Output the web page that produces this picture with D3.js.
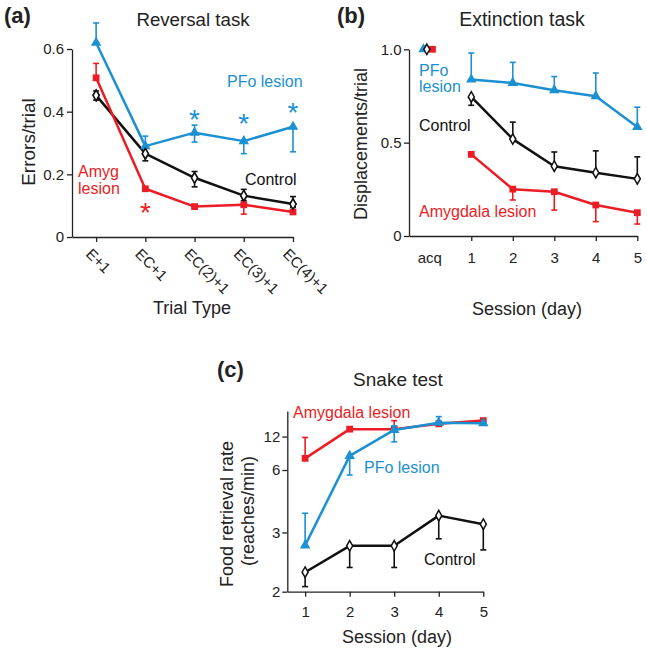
<!DOCTYPE html>
<html><head><meta charset="utf-8">
<script src="https://cdn.jsdelivr.net/npm/d3@7"></script>
<style>body{margin:0;background:#fff} text{font-family:"Liberation Sans",Arial,sans-serif}</style>
</head><body><svg id="c" width="647" height="652"></svg>
<script>
// ---------- DATA ----------
// Panel (a) Reversal task
const trialTypes = ["E+1", "EC+1", "EC(2)+1", "EC(3)+1", "EC(4)+1"];
const aPFo   = [0.62, 0.29, 0.333, 0.306, 0.352];
const aPFoHi = [0.683, 0.322, 0.357, null, null];
const aPFoLo = [null, null, 0.303, 0.266, 0.272];
const aAmyg   = [0.508, 0.154, 0.097, 0.103, 0.08];
const aAmygHi = [0.554, null, null, 0.131, null];
const aAmygLo = [null, null, null, 0.073, null];
const aCtrl   = [0.452, 0.266, 0.189, 0.132, 0.105];
const aCtrlHi = [0.466, 0.286, 0.209, 0.152, 0.129];
const aCtrlLo = [0.437, 0.243, 0.16, 0.116, 0.095];
const aAmygStarIdx = [1], aAmygStarVal = [0.1];
const aPFoStarIdx = [2, 3, 4], aPFoStarVal = [0.397, 0.384, 0.418];
const aYTicks = [0, 0.2, 0.4, 0.6], aYTickLabels = ["0", "0.2", "0.4", "0.6"];

// Panel (b) Extinction task
const bSessions = [1, 2, 3, 4, 5];
const bAcqLabel = "acq";
const bAcqVal = [1.0, 1.0, 1.0];            // PFo, Control, Amygdala at acquisition
const bAcqOffset = [-0.15, -0.07, 0.065];   // small horizontal jitter (session units)
const bPFo   = [0.838, 0.82, 0.781, 0.749, 0.584];
const bPFoHi = [0.98, 0.93, 0.854, 0.873, 0.69];
const bCtrl   = [0.745, 0.519, 0.374, 0.339, 0.306];
const bCtrlHi = [null, 0.61, 0.45, 0.456, 0.424];
const bCtrlLo = [0.70, null, null, null, null];
const bAmyg   = [0.437, 0.251, 0.237, 0.166, 0.125];
const bAmygLo = [null, 0.193, 0.139, 0.077, 0.064];
const bYTicks = [0, 0.5, 1.0], bYTickLabels = ["0", "0.5", "1.0"];

// Panel (c) Snake test
const cSessions = [1, 2, 3, 4, 5];
const cAmyg   = [7.3, 15.2, 15.2, 18.7, 21.7];
const cAmygHi = [11.7, null, 21.6, null, null];
const cPFo   = [2.71, 7.64, 14.8, 19.7, 19.2];
const cPFoHi = [3.56, null, 17.2, 26.9, null];
const cPFoLo = [null, 5.57, 10.4, null, null];
const cCtrl   = [2.25, 2.70, 2.70, 3.48, 3.22];
const cCtrlLo = [2.06, 2.32, 2.32, 2.85, 2.62];
const cYTicks = [2, 3, 6, 12];

// ---------- STYLE ----------
const RED = "#ec1c24", BLUE = "#1b90d3", BLACK = "#111";
const svg = d3.select("#c");
svg.append("rect").attr("width", 647).attr("height", 652).attr("fill", "#fff");

function styleAxis(g, fs) {
  g.attr("font-family", null).attr("font-size", null);
  g.selectAll(".domain").attr("stroke", "#222").attr("stroke-width", 1.3);
  g.selectAll(".tick line").attr("stroke", "#222").attr("stroke-width", 1.3);
  g.selectAll(".tick text").attr("fill", "#222").style("font-size", fs + "px");
}

function marker(g, shape, cx, cy, color) {
  let p;
  if (shape === "tri") p = g.append("path").attr("d", d3.symbol(d3.symbolTriangle, 48)()).attr("fill", color);
  else if (shape === "sq") p = g.append("path").attr("d", d3.symbol(d3.symbolSquare, 46)()).attr("fill", color);
  else p = g.append("path").attr("d", d3.symbol(d3.symbolDiamond, 32)()).attr("fill", "#fff").attr("stroke", BLACK).attr("stroke-width", 1.5);
  p.attr("transform", `translate(${cx},${cy})`);
}

function series(g, xs, vals, hi, lo, color, shape, x, y) {
  const eg = g.append("g").attr("stroke", color).attr("stroke-width", 1.6);
  vals.forEach((v, i) => {
    const cx = x(xs[i]);
    [hi && hi[i], lo && lo[i]].forEach(e => {
      if (e == null) return;
      eg.append("line").attr("x1", cx).attr("x2", cx).attr("y1", y(v)).attr("y2", y(e));
      eg.append("line").attr("x1", cx - 3).attr("x2", cx + 3).attr("y1", y(e)).attr("y2", y(e));
    });
  });
  g.append("path").datum(vals)
    .attr("d", d3.line().x((d, i) => x(xs[i])).y(d => y(d)))
    .attr("fill", "none").attr("stroke", color).attr("stroke-width", 2.5).attr("stroke-linejoin", "round");
  vals.forEach((v, i) => marker(g, shape, x(xs[i]), y(v), color));
}

function txt(x, y, s, o = {}) {
  const t = svg.append("text").attr("x", x).attr("y", y)
    .style("font-size", (o.fs || 16) + "px").attr("fill", o.fill || "#222")
    .attr("text-anchor", o.anchor || "start");
  if (Array.isArray(s)) {
    s.forEach((line, k) => t.append("tspan").attr("x", x).attr("dy", k === 0 ? 0 : (o.lh || 16)).text(line));
  } else t.text(s);
  if (o.bold) t.style("font-weight", "bold");
  if (o.rot) t.attr("transform", `rotate(${o.rot},${x},${y})`);
  return t;
}

// ---------- PANEL A ----------
{
  const idx = trialTypes.map((d, i) => i);
  const x = d3.scaleLinear().domain([-0.49, 4]).range([72, 293]);
  const y = d3.scaleLinear().domain([0, 0.6]).range([237, 49]);
  const g = svg.append("g");
  const ay = g.append("g").attr("transform", "translate(72,0)")
    .call(d3.axisLeft(y).tickValues(aYTicks).tickFormat((d, i) => aYTickLabels[i]).tickSize(5).tickPadding(3).tickSizeOuter(0));
  styleAxis(ay, 15);
  const ax = g.append("g").attr("transform", "translate(0,237)")
    .call(d3.axisBottom(x).tickValues(idx).tickFormat("").tickSize(5).tickSizeOuter(0));
  styleAxis(ax, 15);
  trialTypes.forEach((s, i) => txt(x(i) - 11, 255, s, { fs: 15, rot: 45 }));
  series(g, idx, aCtrl, aCtrlHi, aCtrlLo, BLACK, "dia", x, y);
  series(g, idx, aAmyg, aAmygHi, aAmygLo, RED, "sq", x, y);
  series(g, idx, aPFo, aPFoHi, aPFoLo, BLUE, "tri", x, y);
  aCtrl.forEach((v, i) => marker(g, "dia", x(i), y(v), BLACK));
  aAmygStarIdx.forEach((k, j) => txt(x(k), y(aAmygStarVal[j]) + 16, "*", { fs: 28, fill: RED, anchor: "middle" }));
  aPFoStarIdx.forEach((k, j) => txt(x(k), y(aPFoStarVal[j]) + 16, "*", { fs: 28, fill: BLUE, anchor: "middle" }));
  txt(4, 23, "(a)", { fs: 22, bold: true });
  txt(193, 26, "Reversal task", { fs: 18.7, anchor: "middle" });
  txt(35, 142, "Errors/trial", { fs: 19, anchor: "middle", rot: -90 });
  txt(192, 314, "Trial Type", { fs: 18, anchor: "middle" });
  txt(227, 87, "PFo lesion", { fs: 16, fill: BLUE });
  txt(245, 185, "Control", { fs: 16, fill: BLACK });
  txt(78, 177, ["Amyg", "lesion"], { fs: 16, fill: RED, lh: 17 });
}

// ---------- PANEL B ----------
{
  const x = d3.scaleLinear().domain([-0.5, 5]).range([409, 637.3]);
  const y = d3.scaleLinear().domain([0, 1]).range([236, 49.3]);
  const g = svg.append("g");
  const ay = g.append("g").attr("transform", "translate(409,0)")
    .call(d3.axisLeft(y).tickValues(bYTicks).tickFormat((d, i) => bYTickLabels[i]).tickSize(5).tickPadding(2.5).tickSizeOuter(0));
  styleAxis(ay, 15);
  const ax = g.append("g").attr("transform", "translate(0,236)")
    .call(d3.axisBottom(x).tickValues(bSessions).tickFormat(d3.format("d")).tickSize(5).tickPadding(11).tickSizeOuter(0));
  styleAxis(ax, 15);
  txt(x(0), 263, bAcqLabel, { fs: 15, anchor: "middle" });
  series(g, bSessions, bCtrl, bCtrlHi, bCtrlLo, BLACK, "dia", x, y);
  series(g, bSessions, bAmyg, null, bAmygLo, RED, "sq", x, y);
  series(g, bSessions, bPFo, bPFoHi, null, BLUE, "tri", x, y);
  marker(g, "tri", x(bAcqOffset[0]), y(bAcqVal[0]), BLUE);
  marker(g, "sq", x(bAcqOffset[2]), y(bAcqVal[2]), RED);
  marker(g, "dia", x(bAcqOffset[1]), y(bAcqVal[1]), BLACK);
  txt(337, 23, "(b)", { fs: 22, bold: true });
  txt(522, 26, "Extinction task", { fs: 19.5, anchor: "middle" });
  txt(367, 144, "Displacements/trial", { fs: 18, anchor: "middle", rot: -90 });
  txt(527, 315, "Session (day)", { fs: 18, anchor: "middle" });
  txt(419, 76, ["PFo", "lesion"], { fs: 16, fill: BLUE, lh: 16 });
  txt(419, 131, "Control", { fs: 16, fill: BLACK });
  txt(419, 217, "Amygdala lesion", { fs: 16, fill: RED });
}

// ---------- PANEL C ----------
{
  const x = d3.scaleLinear().domain([0.6, 5]).range([287.3, 483.3]);
  const y = d3.scalePow().exponent(-0.9).domain([2, 40]).range([591.7, 411]);
  const g = svg.append("g");
  const ay = g.append("g").attr("transform", "translate(287.3,0)")
    .call(d3.axisLeft(y).tickValues(cYTicks).tickFormat(d3.format("d")).tickSize(5).tickPadding(2).tickSizeOuter(0));
  styleAxis(ay, 15);
  const ax = g.append("g").attr("transform", "translate(0,591.7)")
    .call(d3.axisBottom(x).tickValues(cSessions).tickFormat(d3.format("d")).tickSize(5).tickPadding(9.5).tickSizeOuter(0));
  styleAxis(ax, 15);
  series(g, cSessions, cCtrl, null, cCtrlLo, BLACK, "dia", x, y);
  series(g, cSessions, cAmyg, cAmygHi, null, RED, "sq", x, y);
  series(g, cSessions, cPFo, cPFoHi, cPFoLo, BLUE, "tri", x, y);
  txt(217, 377, "(c)", { fs: 22, bold: true });
  txt(398, 386, "Snake test", { fs: 19, anchor: "middle" });
  txt(233, 514, "Food retrieval rate", { fs: 18, anchor: "middle", rot: -90 });
  txt(254, 511, "(reaches/min)", { fs: 18, anchor: "middle", rot: -90 });
  txt(397, 643, "Session (day)", { fs: 18, anchor: "middle" });
  txt(293, 418, "Amygdala lesion", { fs: 16, fill: RED });
  txt(364, 473, "PFo lesion", { fs: 16, fill: BLUE });
  txt(424, 565, "Control", { fs: 16, fill: BLACK });
}
</script></body></html>
